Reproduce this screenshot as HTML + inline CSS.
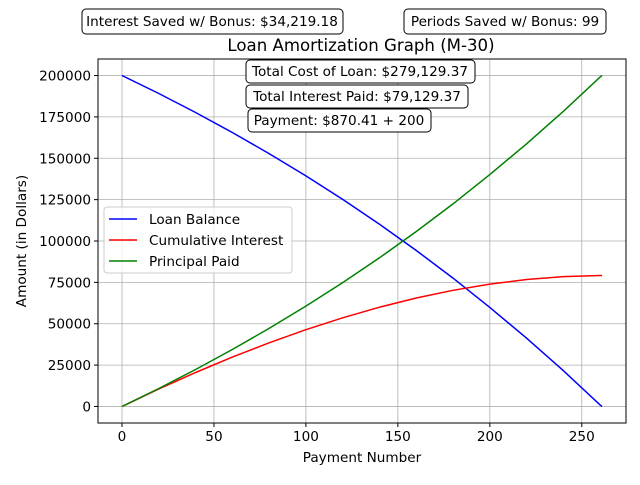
<!DOCTYPE html>
<html><head><meta charset="utf-8"><style>
body{margin:0;background:#fff;}
svg text{font-family:"DejaVu Sans","Liberation Sans",sans-serif;fill:#000;}
</style></head><body>
<svg id="chart" width="640" height="480" xmlns="http://www.w3.org/2000/svg">
<rect width="640" height="480" fill="#fff"/>
<g id="grid"></g>
<g id="series"></g>
<rect x="98" y="59" width="528" height="364" fill="none" stroke="#000" stroke-width="1"/>
<g id="ticks"></g>
<text x="361" y="51" font-size="16.6" text-anchor="middle">Loan Amortization Graph (M-30)</text>
<text x="362" y="462" font-size="13.6" text-anchor="middle">Payment Number</text>
<text transform="translate(26,241) rotate(-90)" font-size="13.6" text-anchor="middle">Amount (in Dollars)</text>
<g><rect x="82" y="9" width="261" height="25" rx="4" fill="#fff" stroke="#000"/><text x="212" y="26" font-size="13.6" text-anchor="middle">Interest Saved w/ Bonus: $34,219.18</text></g>
<g><rect x="404" y="9" width="202" height="25" rx="4" fill="#fff" stroke="#000"/><text x="505" y="26" font-size="13.6" text-anchor="middle">Periods Saved w/ Bonus: 99</text></g>
<g><rect x="246" y="60" width="229" height="23" rx="4" fill="#fff" stroke="#000"/><text x="360" y="76" font-size="13.6" text-anchor="middle">Total Cost of Loan: $279,129.37</text></g>
<g><rect x="246" y="85" width="222" height="23" rx="4" fill="#fff" stroke="#000"/><text x="357" y="101" font-size="13.6" text-anchor="middle">Total Interest Paid: $79,129.37</text></g>
<g><rect x="248" y="109" width="183" height="23" rx="4" fill="#fff" stroke="#000"/><text x="339" y="125" font-size="13.6" text-anchor="middle">Payment: $870.41 + 200</text></g>
<g>
<rect x="104" y="207" width="188" height="66" rx="3" fill="#fff" fill-opacity="0.8" stroke="#ccc"/>
<line x1="109" y1="219" x2="137" y2="219" stroke="blue" stroke-width="1.5"/><text x="149" y="224" font-size="13.6">Loan Balance</text>
<line x1="109" y1="240" x2="137" y2="240" stroke="red" stroke-width="1.5"/><text x="149" y="245" font-size="13.6">Cumulative Interest</text>
<line x1="109" y1="261" x2="137" y2="261" stroke="green" stroke-width="1.5"/><text x="149" y="266" font-size="13.6">Principal Paid</text>
</g>
</svg>
<script>
const periods=[0,20,40,60,80,100,120,140,160,180,200,220,240,260,261];
const balance=[200000,189149,177693,165602,152842,139367,125143,110132,94285,77556,59898,41257,21584,814,0];
const cumInterest=[0,10557,20509,29827,38475,46408,53592,59989,65551,70230,73980,76747,78482,79120,79129];
const principalPaid=[0,10851,22307,34398,47158,60633,74857,89868,105715,122444,140102,158743,178416,199186,200000];
const xTicks=[0,50,100,150,200,250];
const yTicks=[0,25000,50000,75000,100000,125000,150000,175000,200000];
const NS="http://www.w3.org/2000/svg";
const L=98,R=626,T=59,B=423,xmin=-13.05,xmax=274.05,ymin=-10000,ymax=210000;
const sx=v=>L+(v-xmin)/(xmax-xmin)*(R-L);
const sy=v=>B-(v-ymin)/(ymax-ymin)*(B-T);
const grid=document.getElementById('grid'),ticks=document.getElementById('ticks'),series=document.getElementById('series');
function mk(tag,attrs,parent){const e=document.createElementNS(NS,tag);for(const k in attrs)e.setAttribute(k,attrs[k]);parent.appendChild(e);return e;}
xTicks.forEach(t=>{
 const g=mk('line',{x1:sx(t),x2:sx(t),y1:T,y2:B,stroke:'#b0b0b0','stroke-width':0.8},grid);
 
 
 mk('line',{x1:sx(t),x2:sx(t),y1:B,y2:B+4,stroke:'#000'},ticks);
 const tx=mk('text',{x:sx(t),y:B+18,'font-size':13.6,'text-anchor':'middle'},ticks);tx.textContent=t;
 
 
});
yTicks.forEach(t=>{
 const g=mk('line',{x1:L,x2:R,y1:sy(t),y2:sy(t),stroke:'#b0b0b0','stroke-width':0.8},grid);
 
 
 mk('line',{x1:L-4,x2:L,y1:sy(t),y2:sy(t),stroke:'#000'},ticks);
 const tx=mk('text',{x:L-7,y:sy(t)+5,'font-size':13.6,'text-anchor':'end'},ticks);tx.textContent=t;
 
 
});
function line(vals,color,name){
 const pts=periods.map((p,i)=>sx(p).toFixed(1)+','+sy(vals[i]).toFixed(1)).join(' ');
 const pl=mk('polyline',{points:pts,fill:'none',stroke:color,'stroke-width':1.5},series);
 
 
}
line(balance,'blue','loan-balance-line');
line(cumInterest,'red','cumulative-interest-line');
line(principalPaid,'green','principal-paid-line');
</script>
</body></html>
